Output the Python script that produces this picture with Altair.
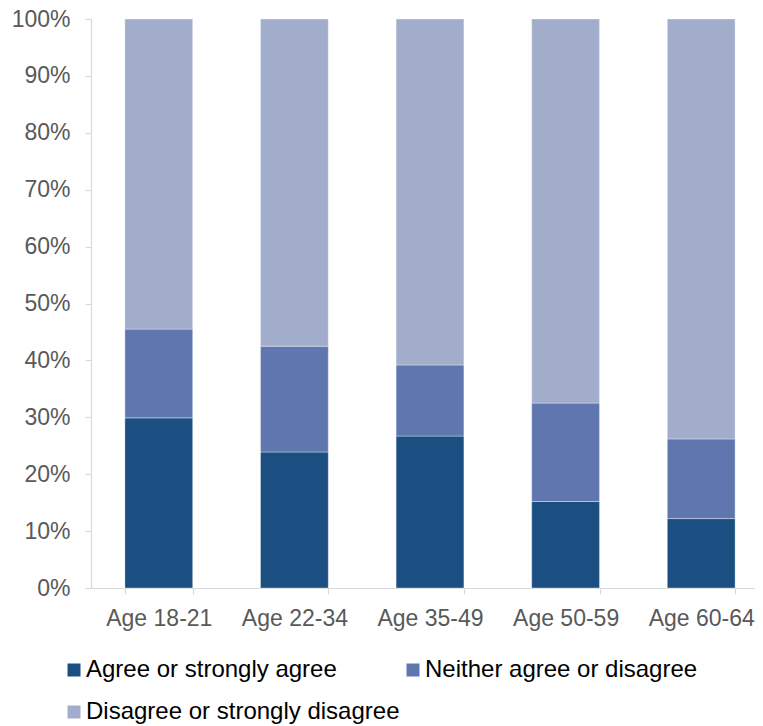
import altair as alt
import pandas as pd

ages = ["Age 18-21", "Age 22-34", "Age 35-49", "Age 50-59", "Age 60-64"]
series = ["Agree or strongly agree", "Neither agree or disagree", "Disagree or strongly disagree"]
agree = [29.9, 23.9, 26.7, 15.2, 12.2]
neither = [15.6, 18.6, 12.5, 17.3, 14.0]
disagree = [54.5, 57.5, 60.8, 67.5, 73.8]
colors = ["#1B4F82", "#5F76AE", "#A2ADCB"]

rows = []
for i, a in enumerate(ages):
    for j, (s, vals) in enumerate(zip(series, [agree, neither, disagree])):
        rows.append({"age": a, "series": s, "value": vals[i] / 100.0, "order": j})
df = pd.DataFrame(rows)

FONT = "Liberation Sans"

chart = alt.Chart(df).mark_bar(stroke="#ffffff", strokeWidth=0.6, strokeOpacity=0.6).encode(
    x=alt.X(
        "age:N",
        sort=ages,
        title=None,
        scale=alt.Scale(range=[0, 678], paddingInner=0.5, paddingOuter=0.25),
        axis=alt.Axis(
            labelAngle=0,
            labelFont=FONT,
            labelFontSize=23,
            labelColor="#595959",
            labelPadding=13,
            tickSize=6,
            tickBand="extent",
            tickColor="#D9D9D9",
            domainColor="#D9D9D9",
            domainWidth=1.2,
            tickWidth=1.2,
            grid=False,
        ),
    ),
    y=alt.Y(
        "value:Q",
        stack="zero",
        title=None,
        scale=alt.Scale(domain=[0, 1], nice=False),
        axis=alt.Axis(
            format=".0%",
            values=[i / 10 for i in range(11)],
            labelFont=FONT,
            labelFontSize=23,
            labelColor="#595959",
            labelPadding=15,
            tickSize=6,
            tickColor="#D9D9D9",
            domainColor="#D9D9D9",
            domainWidth=1.2,
            tickWidth=1.2,
            grid=False,
        ),
    ),
    color=alt.Color(
        "series:N",
        sort=series,
        scale=alt.Scale(domain=series, range=colors),
        legend=alt.Legend(
            title=None,
            orient="none",
            legendX=-29,
            legendY=639,
            columns=2,
            direction="horizontal",
            symbolType="square",
            symbolSize=169,
            symbolStrokeWidth=0,
            labelFont=FONT,
            labelFontSize=24,
            labelColor="#000000",
            labelOffset=0,
            labelLimit=400,
            rowPadding=18,
            columnPadding=1,
            padding=0,
        ),
    ),
    order=alt.Order("order:Q"),
).properties(
    width=664,
    height=569,
    padding={"left": 83, "top": 11, "right": 0, "bottom": 138},
    autosize=alt.AutoSizeParams(type="none"),
).configure_view(stroke=None)

chart.save("out.html", embed_options={"renderer": "svg", "actions": False})
